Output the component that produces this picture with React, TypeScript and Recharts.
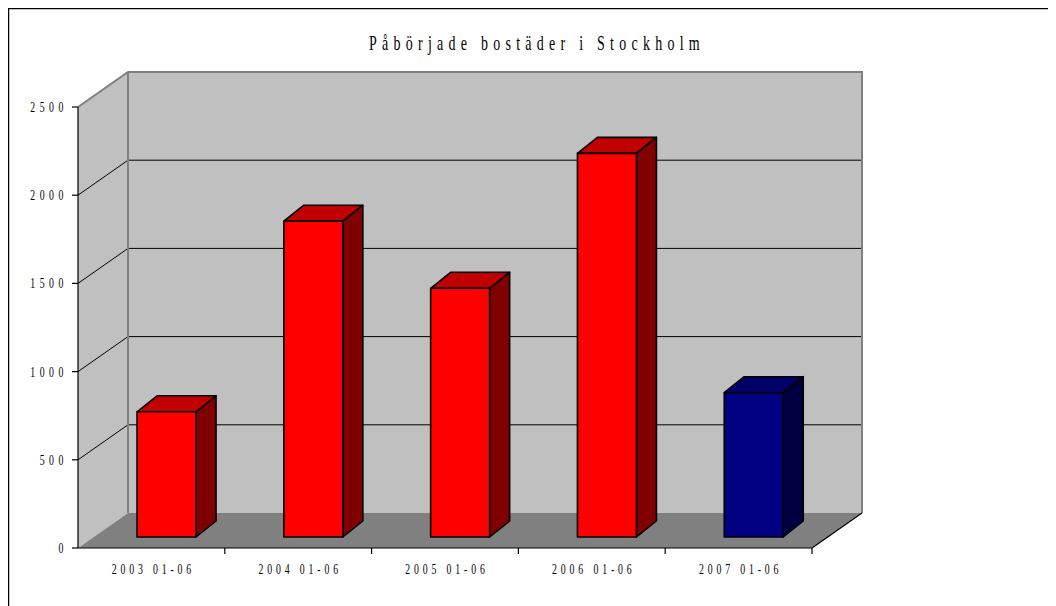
import { Bar, BarChart, Cell, XAxis, YAxis } from 'recharts'

const categories = ['2003 01-06', '2004 01-06', '2005 01-06', '2006 01-06', '2007 01-06']
const started = [710, 1790, 1410, 2175, 818]
const yTicks = [0, 500, 1000, 1500, 2000, 2500]
const title = 'Påbörjade bostäder i Stockholm'

const data = categories.map((period, i) => ({ period, started: started[i] }))

const W = 1040
const H = 598
const margin = { top: 99, right: 236, bottom: 28, left: 10 }
const Y_AXIS_W = 60
const X_AXIS_H = 30
// plot area (front plane)
const PX = margin.left + Y_AXIS_W
const PY = margin.top
const PW = W - margin.right - PX
const PH = H - margin.bottom - X_AXIS_H - PY
// depth of the box and of the bars
const DEPTH = { x: 50, y: -35 }
const BAR_SHIFT = { x: 15, y: -11 }
const BAR_DEPTH = { x: 20, y: -16 }

const FONT = 'Liberation Serif, Times New Roman, serif'
const SQUEEZE = 0.7

const shades: Record<string, [string, string]> = {
	'#ff0000': ['#c00000', '#800000'],
	'#000080': ['#000068', '#000040'],
}

const pts = (p: number[][]) => p.map((q) => q.join(',')).join(' ')

const Box = (props: any) => {
	const { x, y, width, height, fill } = props
	const fx = x + BAR_SHIFT.x
	const fy = y + BAR_SHIFT.y
	const { x: dx, y: dy } = BAR_DEPTH
	const [top, side] = shades[fill] ?? [fill, fill]
	return (
		<g stroke="#000" strokeWidth={1.6} strokeLinejoin="round">
			<polygon
				fill={top}
				points={pts([
					[fx, fy],
					[fx + dx, fy + dy],
					[fx + width + dx, fy + dy],
					[fx + width, fy],
				])}
			/>
			<polygon
				fill={side}
				points={pts([
					[fx + width, fy],
					[fx + width + dx, fy + dy],
					[fx + width + dx, fy + height + dy],
					[fx + width, fy + height],
				])}
			/>
			<rect fill={fill} height={height} width={width} x={fx} y={fy} />
		</g>
	)
}

const Walls = () => {
	const max = yTicks[yTicks.length - 1]
	const yOf = (v: number) => PY + PH - (v / max) * PH
	const bx = PX + DEPTH.x
	const by = PY + DEPTH.y
	const bottom = PY + PH
	const band = PW / categories.length
	return (
		<g>
			<rect fill="#fff" height={H + 20} stroke="#000" strokeWidth={1.5} width={W + 20} x={0.5} y={0.5} />
			<text
				fill="#000"
				fontFamily={FONT}
				fontSize={20}
				letterSpacing={7.5}
				textAnchor="middle"
				transform={`translate(${PX + PW / 2 + 92},42) scale(${SQUEEZE},1)`}
			>
				{title}
			</text>
			{/* left wall */}
			<polygon
				fill="#c0c0c0"
				points={pts([
					[PX, bottom],
					[PX, PY],
					[bx, by],
					[bx, by + PH],
				])}
			/>
			{/* back wall */}
			<rect fill="#c0c0c0" height={PH} width={PW} x={bx} y={by} />
			{/* floor */}
			<polygon
				fill="#808080"
				points={pts([
					[PX, bottom],
					[PX + PW, bottom],
					[bx + PW, by + PH],
					[bx, by + PH],
				])}
			/>
			{yTicks
				.filter((v) => v > 0 && v < max)
				.map((v) => (
					<polyline
						fill="none"
						key={v}
						points={pts([
							[PX, yOf(v)],
							[bx, yOf(v) + DEPTH.y],
							[bx + PW, yOf(v) + DEPTH.y],
						])}
						stroke="#000"
						strokeWidth={1}
					/>
				))}
			<polyline
				fill="none"
				points={pts([
					[PX, PY],
					[bx, by],
					[bx + PW, by],
					[bx + PW, by + PH],
				])}
				stroke="#808080"
				strokeWidth={2}
			/>
			<line stroke="#808080" strokeWidth={2} x1={bx} x2={bx} y1={by} y2={by + PH} />
			<line stroke="#000" strokeWidth={1.2} x1={PX + PW} x2={bx + PW} y1={bottom} y2={by + PH} />
			{categories.map((c, i) => (
				<line key={c} stroke="#000" strokeWidth={1.2} x1={PX + band * (i + 1)} x2={PX + band * (i + 1)} y1={bottom} y2={bottom + 6} />
			))}
		</g>
	)
}

const YTick = ({ x, y, payload }: any) => (
	<text
		fill="#000"
		fontFamily={FONT}
		fontSize={14}
		letterSpacing={6.5}
		textAnchor="end"
		transform={`translate(${x - 2},${y + 5}) scale(${SQUEEZE},1)`}
	>
		{payload.value}
	</text>
)

const XTick = ({ x, y, payload }: any) => (
	<text
		fill="#000"
		fontFamily={FONT}
		fontSize={14}
		letterSpacing={5.5}
		textAnchor="middle"
		transform={`translate(${x + 2},${y + 18}) scale(${SQUEEZE},1)`}
	>
		{payload.value}
	</text>
)

export default function App() {
	return (
		<BarChart
			barCategoryGap="30%"
			data={data}
			height={H}
			margin={margin}
			width={W}
		>
			<Walls />
			<XAxis
				axisLine={{ stroke: '#000', strokeWidth: 1.2 }}
				dataKey="period"
				height={X_AXIS_H}
				interval={0}
				tick={<XTick />}
				tickLine={false}
			/>
			<YAxis
				axisLine={{ stroke: '#000', strokeWidth: 1.2 }}
				domain={[0, 2500]}
				interval={0}
				tick={<YTick />}
				tickLine={{ stroke: '#000', strokeWidth: 1.2 }}
				ticks={yTicks}
				width={Y_AXIS_W}
			/>
			<Bar dataKey="started" isAnimationActive={false} shape={<Box />}>
				{data.map((d, i) => (
					<Cell fill={i === data.length - 1 ? '#000080' : '#ff0000'} key={d.period} />
				))}
			</Bar>
		</BarChart>
	)
}
